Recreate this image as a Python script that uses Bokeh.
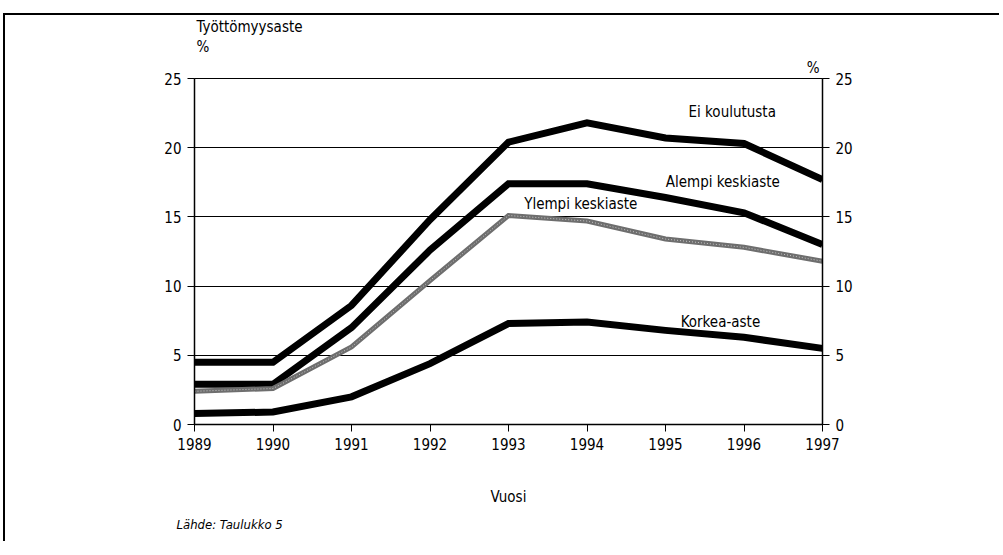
from bokeh.plotting import figure
from bokeh.models import LinearAxis, Label, FixedTicker, Range1d, Title
from bokeh.embed import file_html
from bokeh.resources import INLINE

years = [1989, 1990, 1991, 1992, 1993, 1994, 1995, 1996, 1997]
ei_koulutusta = [4.5, 4.5, 8.6, 14.8, 20.4, 21.8, 20.7, 20.3, 17.7]
alempi_keskiaste = [2.9, 2.9, 7.0, 12.6, 17.4, 17.4, 16.4, 15.3, 13.0]
ylempi_keskiaste = [2.4, 2.6, 5.6, 10.4, 15.1, 14.7, 13.4, 12.8, 11.8]
korkea_aste = [0.8, 0.9, 2.0, 4.4, 7.3, 7.4, 6.8, 6.3, 5.5]
y_ticks = [0, 5, 10, 15, 20, 25]

FONT = "DejaVu Sans Condensed"

p = figure(width=996, height=528, output_backend="svg", toolbar_location=None,
           x_range=Range1d(1989, 1997), y_range=Range1d(0, 25),
           min_border_left=189, min_border_right=179, min_border_top=63,
           min_border_bottom=119,
           styles={"position": "relative", "left": "5px", "top": "15px",
                   "box-shadow": "-2px -2px 0px 0px black"})
p.background_fill_color = "white"
p.border_fill_color = "white"
p.outline_line_color = "black"
p.outline_line_width = 1

p.xgrid.grid_line_color = None
p.ygrid.ticker = FixedTicker(ticks=y_ticks)
p.ygrid.grid_line_color = "black"
p.ygrid.grid_line_width = 1

def style_axis(ax):
    ax.axis_line_color = "black"
    ax.axis_line_width = 1.5
    ax.major_tick_line_color = "black"
    ax.major_tick_line_width = 1
    ax.major_tick_out = 7
    ax.major_tick_in = 0
    ax.minor_tick_line_color = None
    ax.major_label_text_font = FONT
    ax.major_label_text_font_size = "15px"
    ax.major_label_text_color = "black"
    ax.axis_label_text_font = FONT
    ax.axis_label_text_font_style = "normal"
    ax.axis_label_text_font_size = "15px"
    ax.axis_label_text_color = "black"

p.xaxis.ticker = FixedTicker(ticks=years)
p.yaxis.ticker = FixedTicker(ticks=y_ticks)
style_axis(p.xaxis[0])
style_axis(p.yaxis[0])
p.xaxis.major_label_standoff = 6
p.yaxis.major_label_standoff = 6
p.xaxis.axis_label = "Vuosi"
p.xaxis.axis_label_standoff = 35

right_axis = LinearAxis(ticker=FixedTicker(ticks=y_ticks))
style_axis(right_axis)
right_axis.major_label_standoff = 6
p.add_layout(right_axis, "right")

# series
p.line(years, ei_koulutusta, line_color="black", line_width=7, line_join="miter")
p.line(years, alempi_keskiaste, line_color="black", line_width=7, line_join="miter")
p.line(years, ylempi_keskiaste, line_color="#6e6e6e", line_width=5, line_join="miter")
p.line(years, ylempi_keskiaste, line_color="white", line_width=1, line_dash="1 2", line_alpha=0.6)
p.line(years, korkea_aste, line_color="black", line_width=7, line_join="miter")

def lab(x, y, text, size="15px", align="center"):
    p.add_layout(Label(x=x, y=y, text=text, text_font=FONT, text_font_size=size,
                       text_align=align, text_baseline="middle", text_color="black"))

lab(1995.85, 22.6, "Ei koulutusta")
lab(1995.73, 17.5, "Alempi keskiaste")
lab(1993.92, 15.9, "Ylempi keskiaste")
lab(1995.70, 7.37, "Korkea-aste")

def title(text, loc, align, offset, standoff, size="15px", style="normal"):
    p.add_layout(Title(text=text, align=align, offset=offset, standoff=standoff,
                       text_font=FONT, text_font_size=size, text_font_style=style,
                       text_color="black"), loc)

title("%", "above", "right", 3, 3)
title("%", "above", "left", 2, 0)
title("Työttömyysaste", "above", "left", 2, 0)
title("Lähde: Taulukko 5", "below", "left", -18, 13, size="13px", style="italic")

open("out.html", "w").write(file_html(p, INLINE))
